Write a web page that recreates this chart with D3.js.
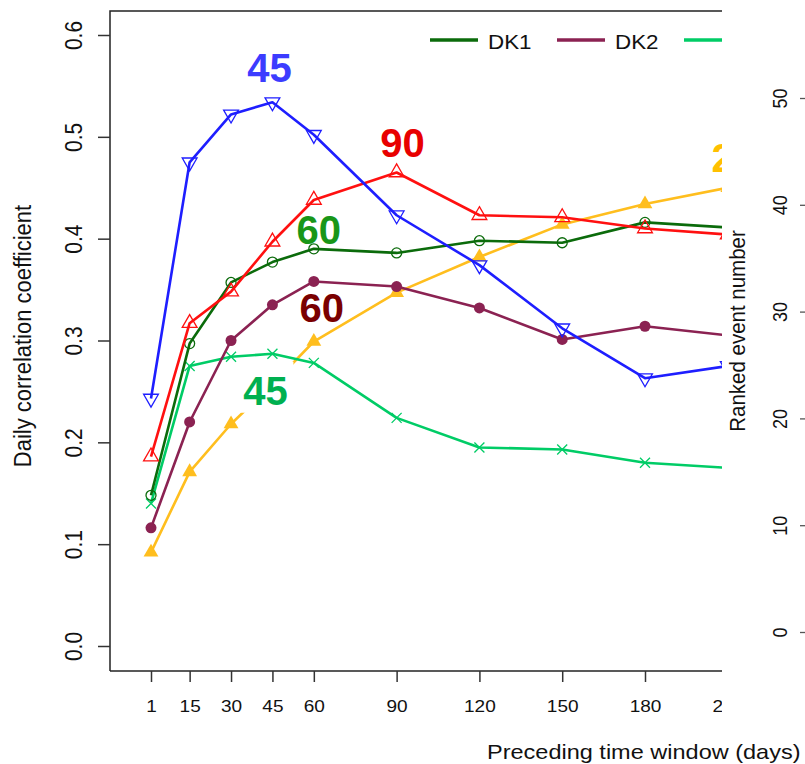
<!DOCTYPE html>
<html>
<head>
<meta charset="utf-8">
<script src="https://cdn.jsdelivr.net/npm/d3@7"></script>
<style>
  body { margin: 0; background: #fff; }
  svg { display: block; font-family: "Liberation Sans", Arial, sans-serif; }
</style>
</head>
<body>
<div id="vis"></div>
<script>
// preceding time window (days)
var days = [1, 15, 30, 45, 60, 90, 120, 150, 180, 210];

// daily correlation coefficient, one array per series
var blueVals   = [0.243, 0.475, 0.522, 0.534, 0.502, 0.423, 0.374, 0.312, 0.263, 0.275];
var redVals    = [0.186, 0.317, 0.348, 0.397, 0.438, 0.465, 0.423, 0.421, 0.410, 0.404];
var dk1Vals    = [0.148, 0.297, 0.357, 0.377, 0.390, 0.386, 0.398, 0.396, 0.416, 0.411];
var dk2Vals    = [0.116, 0.220, 0.300, 0.335, 0.358, 0.353, 0.332, 0.301, 0.314, 0.305];
var dk3Vals    = [0.140, 0.275, 0.284, 0.287, 0.278, 0.224, 0.195, 0.193, 0.180, 0.175];
var orangeVals = [0.092, 0.171, 0.218, 0.257, 0.299, 0.347, 0.382, 0.414, 0.434, 0.450];

var yTicks = [0, 0.1, 0.2, 0.3, 0.4, 0.5, 0.6];
var rightTicks = [0, 10, 20, 30, 40, 50];
var legendNames = ["DK1", "DK2", "DK3"];

var width = 805, height = 764;
var sx = 1.12; // the picture is a bit stretched sideways

var svg = d3.select("#vis").append("svg")
    .attr("width", width)
    .attr("height", height);

var x = d3.scaleLinear().domain([1, 180]).range([151, 645]);
var y = d3.scaleLinear().domain([0, 0.6]).range([646, 35]);
var yRight = d3.scaleLinear().domain([0, 50]).range([632, 98]);

// left panel is cut off at x = 722
svg.append("clipPath").attr("id", "cut")
    .append("rect").attr("x", 0).attr("y", 0).attr("width", 722).attr("height", height);
svg.append("clipPath").attr("id", "plotarea")
    .append("rect").attr("x", 110).attr("y", 11).attr("width", 612).attr("height", 660);

var left = svg.append("g").attr("clip-path", "url(#cut)");

// box
left.append("path")
    .attr("d", "M110,671V11H760")
    .attr("fill", "none")
    .attr("stroke", "#222")
    .attr("stroke-width", 1.5);

var xAxis = left.append("g")
    .attr("transform", "translate(0,671)")
    .call(d3.axisBottom(x).tickValues(days).tickSize(11).tickSizeOuter(0));
xAxis.select(".domain").attr("d", "M110,0H760").attr("stroke", "#222").attr("stroke-width", 1.5);
xAxis.selectAll(".tick line").attr("stroke", "#333").attr("stroke-width", 1.5);
xAxis.selectAll(".tick text")
    .attr("y", 0).attr("dy", 0)
    .attr("transform", "translate(0,41) scale(" + sx + ",1)")
    .attr("font-size", 17)
    .attr("fill", "#111");

var yAxis = left.append("g")
    .attr("transform", "translate(110,0)")
    .call(d3.axisLeft(y).tickValues(yTicks).tickSize(12).tickFormat(d3.format(".1f")));
yAxis.select(".domain").remove();
yAxis.selectAll(".tick line").attr("stroke", "#333").attr("stroke-width", 1.5);
yAxis.selectAll(".tick text")
    .attr("x", 0).attr("y", 0).attr("dy", 0)
    .attr("text-anchor", "middle")
    .attr("transform", "translate(-28,0) scale(" + sx + ",1) rotate(-90)")
    .attr("font-size", 21)
    .attr("fill", "#111");

// axis titles
left.append("text")
    .attr("transform", "translate(31,336) scale(1.05,1) rotate(-90)")
    .attr("text-anchor", "middle")
    .attr("font-size", 22)
    .attr("fill", "#111")
    .text("Daily correlation coefficient");

svg.append("text")
    .attr("transform", "translate(487,759) scale(" + sx + ",1)")
    .attr("font-size", 21)
    .attr("fill", "#111")
    .text("Preceding time window (days)");

var series = [
    { key: "orange", vals: orangeVals, color: "#ffbe1e", mark: "triFill" },
    { key: "dk3", vals: dk3Vals, color: "#00cc66", mark: "cross" },
    { key: "dk2", vals: dk2Vals, color: "#8b2252", mark: "dot" },
    { key: "dk1", vals: dk1Vals, color: "#0b6b0b", mark: "circle" },
    { key: "red", vals: redVals, color: "#ff1010", mark: "tri" },
    { key: "blue", vals: blueVals, color: "#1e1eff", mark: "triDown" }
];

var plot = left.append("g").attr("clip-path", "url(#plotarea)");

var line = d3.line()
    .x(function (d, i) { return x(days[i]); })
    .y(function (d) { return y(d); });

var tri = d3.symbol().type(d3.symbolTriangle).size(95);
var crossPath = "M-5,-5L5,5M-5,5L5,-5";

function drawSeries(s) {
    var g = plot.append("g");
    g.append("path")
        .datum(s.vals)
        .attr("fill", "none")
        .attr("stroke", s.color)
        .attr("stroke-width", 2.6)
        .attr("stroke-linejoin", "round")
        .attr("d", line);
    var pts = g.selectAll(".pt")
        .data(s.vals)
        .enter().append("g")
        .attr("transform", function (d, i) {
            return "translate(" + x(days[i]) + "," + y(d) + ")";
        });
    if (s.mark === "circle") {
        pts.append("circle").attr("r", 5).attr("fill", "none").attr("stroke", s.color).attr("stroke-width", 1.3);
    } else if (s.mark === "dot") {
        pts.append("circle").attr("r", 5.5).attr("fill", s.color);
    } else if (s.mark === "cross") {
        pts.append("path").attr("d", crossPath).attr("stroke", s.color).attr("stroke-width", 1.3);
    } else if (s.mark === "tri") {
        pts.append("path").attr("d", tri).attr("fill", "none").attr("stroke", s.color).attr("stroke-width", 1.3);
    } else if (s.mark === "triDown") {
        pts.append("path").attr("d", tri).attr("transform", "rotate(180)")
            .attr("fill", "none").attr("stroke", s.color).attr("stroke-width", 1.3);
    } else if (s.mark === "triFill") {
        pts.append("path").attr("d", tri).attr("fill", s.color);
    }
}

drawSeries(series[0]);

// white box behind the "45" label hides part of the orange line
plot.append("rect")
    .attr("x", x(45) - 32).attr("y", y(0.287) + 8)
    .attr("width", 53).attr("height", 51)
    .attr("fill", "#fff");

series.slice(1).forEach(drawSeries);

// peak labels
var labels = [
    { text: "45", day: 45, v: blueVals[3], dx: -3, dy: -20, color: "#3c3cff" },
    { text: "90", day: 90, v: redVals[5], dx: 6, dy: -15, color: "#e80000" },
    { text: "60", day: 60, v: dk1Vals[4], dx: 5, dy: -5, color: "#189618" },
    { text: "60", day: 60, v: dk2Vals[4], dx: 8, dy: 41, color: "#7a0000" },
    { text: "45", day: 45, v: dk3Vals[3], dx: -7, dy: 51, color: "#00b050" },
    { text: "210", day: 210, v: orangeVals[9], dx: 17, dy: -16, color: "#ffc000" }
];
left.selectAll(".peak")
    .data(labels)
    .enter().append("text")
    .attr("x", function (d) { return x(d.day) + d.dx; })
    .attr("y", function (d) { return y(d.v) + d.dy; })
    .attr("text-anchor", "middle")
    .attr("font-size", 40)
    .attr("font-weight", "bold")
    .attr("fill", function (d) { return d.color; })
    .text(function (d) { return d.text; });

// legend across the top
var legColors = ["#0b6b0b", "#8b2252", "#00cc66"];
var leg = left.selectAll(".leg")
    .data(legendNames)
    .enter().append("g")
    .attr("transform", function (d, i) { return "translate(" + (430 + i * 127) + ",40)"; });
leg.append("line")
    .attr("x1", 0).attr("x2", 48)
    .attr("stroke", function (d, i) { return legColors[i]; })
    .attr("stroke-width", 3.5);
leg.append("text")
    .attr("transform", "translate(58,9) scale(" + sx + ",1)")
    .attr("font-size", 20)
    .attr("fill", "#111")
    .text(function (d) { return d; });

// right axis (ranked event number)
var rAxis = svg.append("g")
    .attr("transform", "translate(800,0)")
    .call(d3.axisRight(yRight).tickValues(rightTicks).tickSize(7));
rAxis.select(".domain").remove();
rAxis.selectAll(".tick line").attr("stroke", "#555").attr("stroke-width", 1.3);
rAxis.selectAll(".tick text")
    .attr("x", 0).attr("y", 0).attr("dy", 0)
    .attr("text-anchor", "middle")
    .attr("transform", "translate(-13,0) scale(1.08,1) rotate(-90)")
    .attr("font-size", 18)
    .attr("fill", "#111");

svg.append("text")
    .attr("transform", "translate(745,331) scale(1.12,1) rotate(-90)")
    .attr("text-anchor", "middle")
    .attr("font-size", 20.5)
    .attr("fill", "#111")
    .text("Ranked event number");
</script>
</body>
</html>
